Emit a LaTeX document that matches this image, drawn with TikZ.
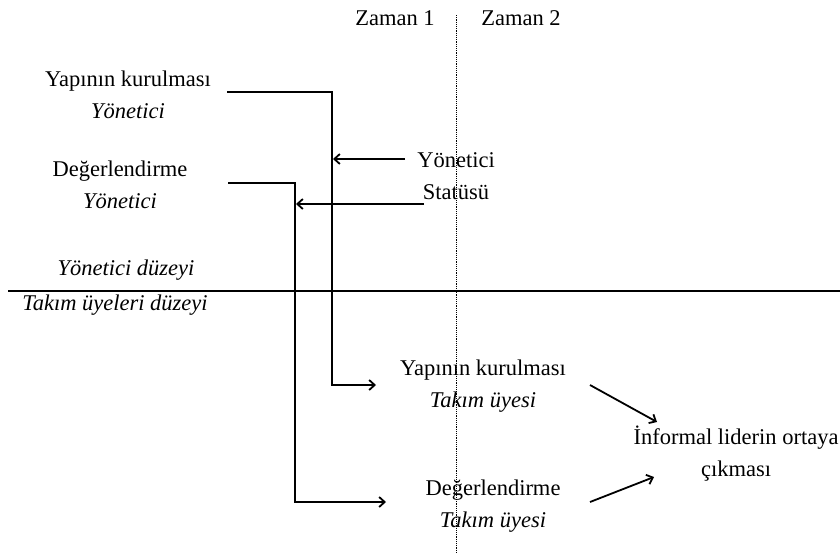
\documentclass[tikz,border=0pt]{standalone}
\usepackage{fontspec}
\setmainfont{Liberation Serif}
\usetikzlibrary{arrows.meta}
\begin{document}
\begin{tikzpicture}[x=1pt,y=-1pt,
  txt/.style={inner sep=0pt,align=center,font=\fontsize{22.5}{32}\selectfont},
  arr/.style={line width=1.8pt,-{Straight Barb[length=5.5pt,width=10pt,line width=1.8pt]}},
  divider/.style={line width=1.3pt},
  timeline/.style={line width=0.7pt,dash pattern=on 1.2pt off 1pt}]
\useasboundingbox (0,0) rectangle (840,552);
% time labels and dotted line
\node[txt] (z1) at (395,18) {Zaman 1};
\node[txt] (z2) at (521,18) {Zaman 2};
\coordinate (tTop) at (456,15);
\coordinate (tBot) at (456,552);
\draw[timeline] (tTop) -- (tBot);
% manager level
\node[txt] (mA) at (128,95) {Yapının kurulması\\\textit{Yönetici}};
\node[txt] (mB) at (120,185) {Değerlendirme\\\textit{Yönetici}};
\node[txt] (st) at (456,176) {Yönetici\\Statüsü};
% level divider
\node[txt] (lvU) at (126,270) {\textit{Yönetici düzeyi}};
\node[txt] (lvL) at (115,305) {\textit{Takım üyeleri düzeyi}};
\coordinate (dL) at (8,291);
\coordinate (dR) at (840,291);
\draw[divider] (dL) -- (dR);
% team level
\node[txt] (tA) at (483,386) {Yapının kurulması\\\textit{Takım üyesi}};
\node[txt] (tB) at (493,506) {Değerlendirme\\\textit{Takım üyesi}};
\node[txt] (inf) at (736,454) {İnformal liderin ortaya\\çıkması};
% connector coordinates
\coordinate (a1) at (227,92);
\coordinate (a2) at (332,92);
\coordinate (a3) at (332,385);
\coordinate (a4) at (376,385);
\coordinate (b1) at (228,183);
\coordinate (b2) at (295,183);
\coordinate (b3) at (295,502);
\coordinate (b4) at (386,502);
\coordinate (s1) at (405,159);
\coordinate (s1e) at (333,159);
\coordinate (s2) at (424,204);
\coordinate (s2e) at (296,204);
\coordinate (i1) at (590,385);
\coordinate (i1e) at (657,422);
\coordinate (i2) at (590,502);
\coordinate (i2e) at (654,477);
% connectors
\draw[arr] (a1) -- (a2) -- (a3) -- (a4);
\draw[arr] (b1) -- (b2) -- (b3) -- (b4);
\draw[arr] (s1) -- (s1e);
\draw[arr] (s2) -- (s2e);
\draw[arr] (i1) -- (i1e);
\draw[arr] (i2) -- (i2e);
\end{tikzpicture}
\end{document}
